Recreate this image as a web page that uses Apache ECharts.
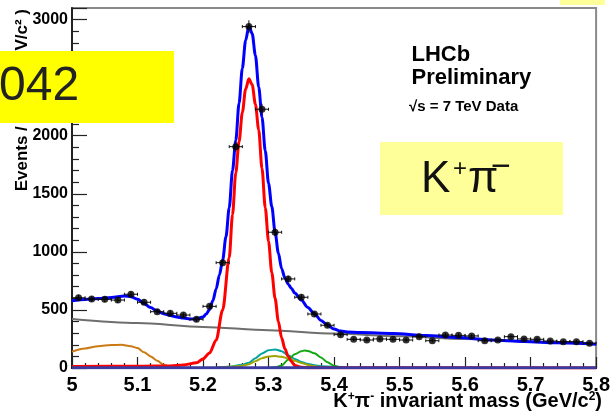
<!DOCTYPE html>
<html>
<head>
<meta charset="utf-8">
<script src="https://cdn.jsdelivr.net/npm/echarts@6/dist/echarts.min.js"></script>
<style>html,body{margin:0;padding:0;background:#fff;}#c{width:613px;height:414px;}</style>
</head>
<body>
<div id="c"></div>
<script>
// ---- data ----
const binCenters = [5.01,5.03,5.05,5.07,5.09,5.11,5.13,5.15,5.17,5.19,5.21,5.23,5.25,5.27,5.29,5.31,5.33,5.35,5.37,5.39,
                    5.41,5.43,5.45,5.47,5.49,5.51,5.53,5.55,5.57,5.59,5.61,5.63,5.65,5.67,5.69,5.71,5.73,5.75,5.77,5.79];
const counts = [605,594,591,585,635,566,485,471,456,419,531,907,1906,2940,2228,1169,767,609,465,368,
                287,247,241,250,247,241,270,235,284,281,276,235,241,270,250,247,232,227,227,213];
const binHalfWidth = 0.01;

const totalFit = [[5.00,580],[5.02,590],[5.04,598],[5.06,608],[5.08,620],[5.09,614],[5.10,592],[5.11,556],[5.12,520],[5.13,490],
  [5.14,468],[5.15,452],[5.16,440],[5.17,430],[5.18,423],[5.19,422],[5.20,440],[5.205,465],[5.21,505],[5.215,580],[5.22,680],
  [5.225,800],[5.23,930],[5.235,1130],[5.24,1380],[5.245,1700],[5.25,1960],[5.255,2280],[5.26,2580],[5.265,2820],[5.27,2945],
  [5.275,2880],[5.28,2690],[5.285,2420],[5.29,2160],[5.295,1870],[5.30,1590],[5.305,1390],[5.31,1170],[5.315,990],[5.32,855],
  [5.325,775],[5.33,722],[5.335,685],[5.34,645],[5.35,585],[5.36,522],[5.37,468],[5.38,410],[5.39,370],[5.40,335],[5.41,318],
  [5.42,310],[5.44,305],[5.49,297],[5.54,279],[5.59,262],[5.64,242],[5.69,228],[5.74,217],[5.80,205]];
const signal = [[5.00,13],[5.10,15],[5.15,18],[5.17,26],[5.19,45],[5.20,78],[5.21,130],[5.22,240],[5.23,500],[5.24,950],[5.245,1320],
  [5.25,1680],[5.255,1950],[5.26,2200],[5.265,2400],[5.27,2490],[5.275,2440],[5.28,2270],[5.285,2050],[5.29,1720],[5.295,1380],
  [5.30,1090],[5.305,820],[5.31,600],[5.315,400],[5.32,260],[5.325,165],[5.33,100],[5.335,55],[5.34,22],[5.35,6],[5.36,2],[5.80,0]];
const combinatorial = [[5.0,422],[5.1,387],[5.2,354],[5.3,325],[5.4,297],[5.5,273],[5.6,250],[5.7,228],[5.8,205]];
const partialReco = [[5.00,140],[5.02,168],[5.04,188],[5.06,198],[5.075,200],[5.09,188],[5.10,172],[5.11,135],[5.12,100],
  [5.13,62],[5.14,28],[5.15,8],[5.16,2],[5.20,0]];
const cyanComp = [[5.22,3],[5.24,10],[5.26,28],[5.27,45],[5.28,85],[5.29,125],[5.30,152],[5.31,160],[5.32,145],[5.33,110],
  [5.34,78],[5.35,52],[5.36,35],[5.37,24],[5.38,16],[5.40,8],[5.42,3],[5.45,0]];
const oliveComp = [[5.22,3],[5.24,10],[5.26,20],[5.27,32],[5.28,58],[5.29,85],[5.30,100],[5.31,103],[5.32,97],[5.33,82],
  [5.34,62],[5.35,44],[5.36,26],[5.37,14],[5.38,6],[5.40,2],[5.42,0]];
const greenComp = [[5.29,0],[5.30,2],[5.31,6],[5.32,22],[5.33,70],[5.34,118],[5.35,145],[5.355,150],[5.36,147],[5.37,128],
  [5.38,90],[5.39,50],[5.40,20],[5.41,6],[5.42,1],[5.44,0]];
const flatComp = [[5.0,3],[5.8,3]];

const yTitle = 'Events / ( 0.02 GeV/c² )';
const FONT = '"Liberation Sans", Arial, Helvetica, sans-serif';

const chart = echarts.init(document.getElementById('c'), null, {renderer: 'canvas'});

function line(name, data, color, width, z) {
  return {type: 'line', name, data, showSymbol: false, symbol: 'none', smooth: 0.3, smoothMonotone: 'x',
    lineStyle: {color, width}, itemStyle: {color}, z: z || 2, silent: true};
}

const option = {
  animation: false,
  backgroundColor: '#fff',
  grid: {left: 72, right: 11, top: 8, bottom: 46, show: true, borderColor: '#8a8a8a', borderWidth: 2, backgroundColor: 'transparent'},
  xAxis: {
    type: 'value', min: 5, max: 5.8, interval: 0.1,
    axisLine: {lineStyle: {color: '#111', width: 2}},
    axisTick: {inside: true, length: 11, lineStyle: {color: '#222', width: 1.2}},
    minorTick: {show: true, splitNumber: 5, length: 5, lineStyle: {color: '#222', width: 1.2}},
    axisLabel: {margin: 7, color: '#000', fontFamily: FONT, fontWeight: 'bold', fontSize: 20},
    splitLine: {show: false}
  },
  yAxis: {
    type: 'value', min: 0, max: 3100, interval: 500,
    axisLine: {lineStyle: {color: '#222', width: 2}},
    axisTick: {inside: true, length: 15, lineStyle: {color: '#222', width: 1.2}},
    minorTick: {show: true, splitNumber: 5, length: 7, lineStyle: {color: '#222', width: 1.2}},
    axisLabel: {margin: 4, color: '#000', fontFamily: FONT, fontWeight: 'bold', fontSize: 16, showMaxLabel: false,
      formatter: v => (v % 500 === 0 ? String(v) : '')},
    splitLine: {show: false}
  },
  series: [
    line('combinatorial', combinatorial, '#6e6e6e', 2, 3),
    line('partial', partialReco, '#cc7a14', 2, 3),
    line('cyan', cyanComp, '#00a3a3', 2, 3),
    line('olive', oliveComp, '#a3a300', 2, 3),
    line('green', greenComp, '#12a812', 2, 3),
    line('signal', signal, '#ff0000', 3, 4),
    line('flat', flatComp, '#3a3aa0', 3, 4.5),
    line('total', totalFit, '#0000ff', 3, 5),
    {
      type: 'custom', name: 'errors', z: 6, silent: true,
      data: binCenters.map((x, i) => [x, counts[i]]),
      renderItem(params, api) {
        const x = api.value(0), y = api.value(1), e = Math.sqrt(y);
        const l = api.coord([x - binHalfWidth, y]), r = api.coord([x + binHalfWidth, y]);
        const t = api.coord([x, y + e]), b = api.coord([x, y - e]);
        const st = {stroke: '#111', lineWidth: 1};
        return {type: 'group', children: [
          {type: 'line', shape: {x1: l[0], y1: l[1], x2: r[0], y2: r[1]}, style: st},
          {type: 'line', shape: {x1: l[0], y1: l[1] - 1.5, x2: l[0], y2: l[1] + 1.5}, style: st},
          {type: 'line', shape: {x1: r[0], y1: r[1] - 1.5, x2: r[0], y2: r[1] + 1.5}, style: st},
          {type: 'line', shape: {x1: t[0], y1: t[1], x2: b[0], y2: b[1]}, style: st}
        ]};
      }
    },
    {
      type: 'scatter', name: 'data', z: 7, silent: true, symbol: 'circle', symbolSize: 7,
      itemStyle: {color: '#000'},
      data: binCenters.map((x, i) => [x, counts[i]])
    }
  ],
  graphic: [
    {type: 'text', x: 22, y: 9, rotation: Math.PI / 2, z: 50,
      style: {text: yTitle, font: `bold 17px ${FONT}`, fill: '#000', align: 'right', verticalAlign: 'middle'}},
    {type: 'text', x: 602, y: 401, z: 50,
      style: {text: '{b|K}{s|+}{b|π}{s|-}{b| invariant mass (GeV/c}{s|2}{b|)}', align: 'right', verticalAlign: 'middle',
        rich: {b: {font: `bold 20px ${FONT}`, fill: '#000', color: '#000'},
               s: {font: `bold 12px ${FONT}`, fill: '#000', color: '#000', verticalAlign: 'top'}}}},
    {type: 'text', x: 411.5, y: 55, z: 50, style: {text: 'LHCb', font: `bold 22px ${FONT}`, fill: '#000', align: 'left', verticalAlign: 'middle'}},
    {type: 'text', x: 411.5, y: 77.5, z: 50, style: {text: 'Preliminary', font: `bold 22px ${FONT}`, fill: '#000', align: 'left', verticalAlign: 'middle'}},
    {type: 'text', x: 409, y: 107, z: 50, style: {text: '√s = 7 TeV Data', font: `bold 15px ${FONT}`, fill: '#000', align: 'left', verticalAlign: 'middle'}},
    {type: 'rect', z: 100, shape: {x: 0, y: 51, width: 174, height: 72}, style: {fill: '#ffff00'}},
    {type: 'text', x: -1, y: 87, z: 101, style: {text: '042', font: `48px ${FONT}`, fill: '#222', align: 'left', verticalAlign: 'middle'}},
    {type: 'rect', z: 100, shape: {x: 380, y: 142, width: 183, height: 73}, style: {fill: '#ffff99'}},
    {type: 'text', x: 421, y: 180, z: 101, style: {text: 'K', font: `44px ${FONT}`, fill: '#111', align: 'left', verticalAlign: 'middle'}},
    {type: 'text', x: 460, y: 169, z: 101, style: {text: '+', font: `24px ${FONT}`, fill: '#111', align: 'center', verticalAlign: 'middle'}},
    {type: 'text', x: 468, y: 180, z: 101, style: {text: 'π', font: `44px ${FONT}`, fill: '#111', align: 'left', verticalAlign: 'middle'}},
    {type: 'text', x: 501, y: 168, z: 101, style: {text: '−', font: `34px ${FONT}`, fill: '#111', align: 'center', verticalAlign: 'middle'}},
    {type: 'rect', z: 100, shape: {x: 560, y: 0, width: 45, height: 5}, style: {fill: '#ffff99'}}
  ]
};
chart.setOption(option);
</script>
</body>
</html>
